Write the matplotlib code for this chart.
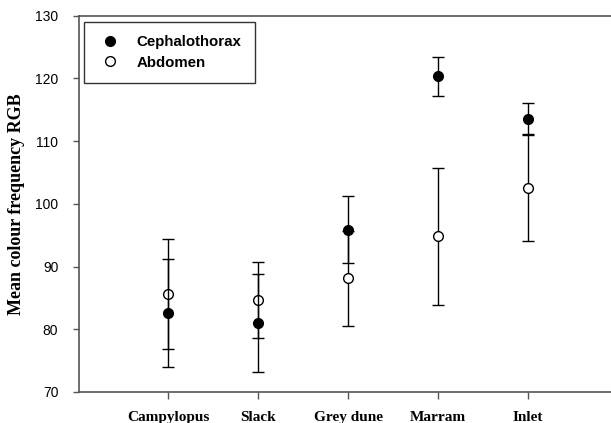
import matplotlib
matplotlib.use("Agg")
import matplotlib.pyplot as plt
from matplotlib.lines import Line2D

categories = ["Campylopus", "Slack", "Grey dune", "Marram", "Inlet"]
ceph_mean = [82.6, 81.0, 95.9, 120.3, 113.5]
ceph_err = [8.6, 7.8, 5.3, 3.1, 2.5]
abd_mean = [85.6, 84.7, 88.1, 94.8, 102.6]
abd_err = [8.8, 6.1, 7.6, 10.9, 8.5]
yticks = [70, 80, 90, 100, 110, 120, 130]

fig = plt.figure(figsize=(6.11, 4.23), dpi=100)
ax = fig.add_axes([0.1285, 0.0733, 0.8715, 0.8897])

x = list(range(1, len(categories) + 1))
ax.errorbar(x, abd_mean, yerr=abd_err, fmt='o', mfc='white', mec='black',
            ecolor='black', elinewidth=1.0, capsize=4, capthick=1.0,
            markersize=7, mew=1.0, zorder=3)
ax.errorbar(x, ceph_mean, yerr=ceph_err, fmt='o', mfc='black', mec='black',
            ecolor='black', elinewidth=1.0, capsize=4, capthick=1.0,
            markersize=7, mew=1.0, zorder=4)

ax.set_xlim(0, 5.92)
ax.set_ylim(70, 130)
ax.set_yticks(yticks)
ax.set_xticks(x)
ax.set_xticklabels(categories, fontfamily='Liberation Serif', fontweight='bold', fontsize=11)
for lab in ax.get_yticklabels():
    lab.set_fontfamily('Liberation Sans')
    lab.set_fontsize(10)
ax.tick_params(axis='y', direction='out', length=4.5, width=1, color='#555555', pad=10)
ax.tick_params(axis='x', direction='out', length=5, width=1, color='#555555', pad=9)

ax.spines['right'].set_visible(False)
for s in ['left', 'bottom', 'top']:
    ax.spines[s].set_color('#555555')
    ax.spines[s].set_linewidth(1.2)

ax.set_ylabel('Mean colour frequency RGB', fontfamily='Liberation Serif',
              fontweight='bold', fontsize=13, labelpad=7)

handles = [
    Line2D([], [], marker='o', linestyle='none', mfc='black', mec='black', markersize=7),
    Line2D([], [], marker='o', linestyle='none', mfc='white', mec='black', markersize=7),
]
leg = ax.legend(handles, ['Cephalothorax', 'Abdomen'], loc='upper left',
                bbox_to_anchor=(0.011, 0.983), frameon=True, fancybox=False,
                edgecolor='black', borderpad=0.88, handletextpad=0.9,
                handlelength=1.7,
                prop={'family': 'Liberation Sans', 'weight': 'bold', 'size': 10.8},
                borderaxespad=0.0, labelspacing=0.42)
leg.get_frame().set_linewidth(1.0)

fig.savefig('out.png', dpi=100)
